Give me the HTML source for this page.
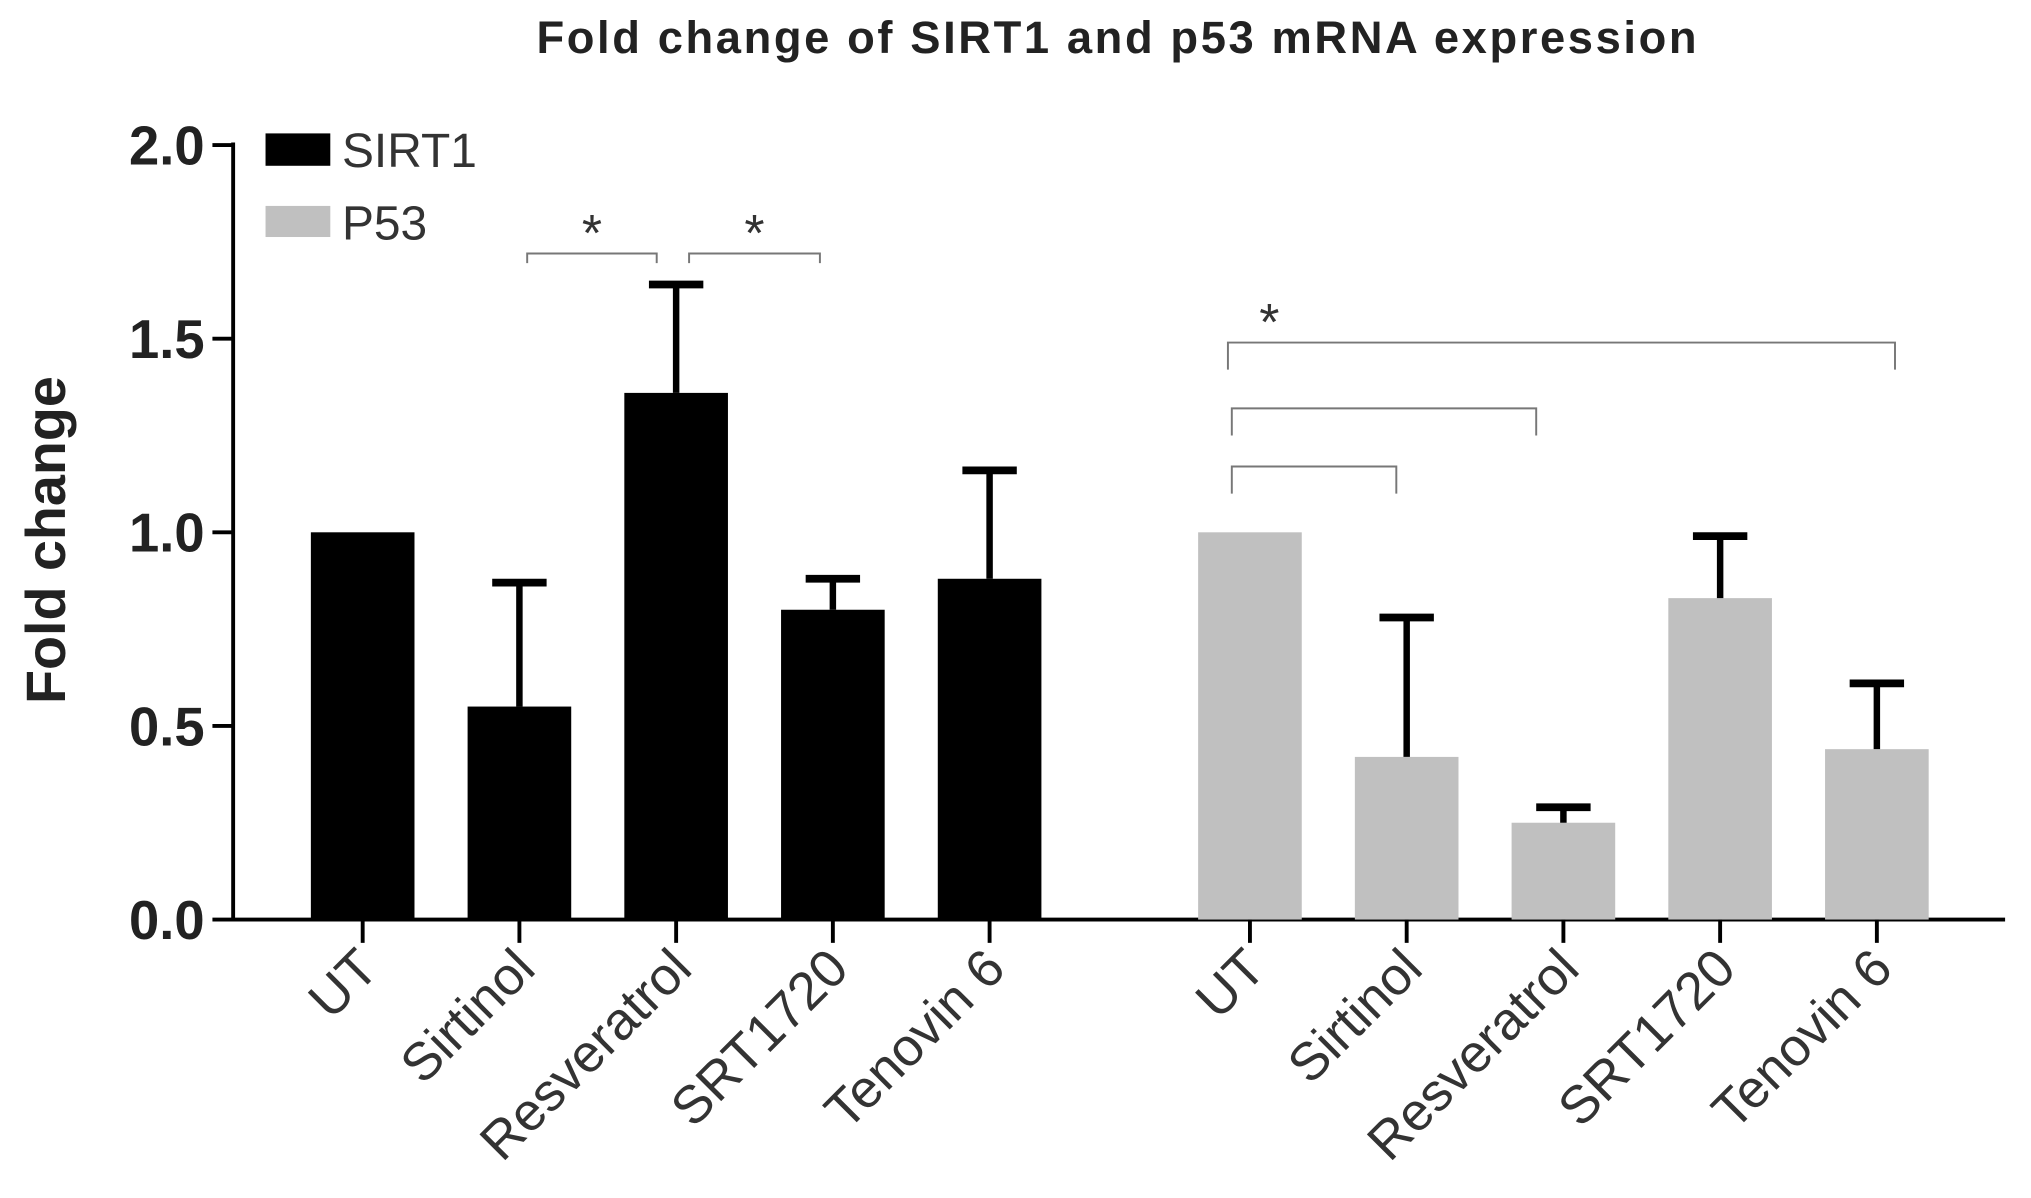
<!DOCTYPE html>
<html><head><meta charset="utf-8"><style>html,body{margin:0;padding:0;background:#fff}svg{display:block}</style></head>
<body>
<svg id="chart" width="2031" height="1198" viewBox="0 0 1568 925" preserveAspectRatio="none" xmlns="http://www.w3.org/2000/svg" font-family="Liberation Sans, Arial, sans-serif">
<text x="863" y="41" text-anchor="middle" font-size="35" font-weight="bold" letter-spacing="2" fill="#222">Fold change of SIRT1 and p53 mRNA  expression</text>
<text transform="translate(50,417) rotate(-90)" text-anchor="middle" font-size="43" font-weight="bold" fill="#222">Fold change</text>
<g id="legend">
<rect x="205" y="103" width="50" height="25" fill="#000"/>
<text x="264" y="129" font-size="37" fill="#333">SIRT1</text>
<rect x="205" y="159" width="50" height="24" fill="#c0c0c0"/>
<text x="264" y="185" font-size="37" fill="#333">P53</text>
</g>
<g id="marks"></g>
</svg>
<script>
const categories = ["UT","Sirtinol","Resveratrol","SRT1720","Tenovin 6","UT","Sirtinol","Resveratrol","SRT1720","Tenovin 6"];
const series = ["SIRT1","SIRT1","SIRT1","SIRT1","SIRT1","P53","P53","P53","P53","P53"];
const values = [1.0,0.55,1.36,0.80,0.88,1.0,0.42,0.25,0.83,0.44];
const errTops = [null,0.87,1.64,0.88,1.16,null,0.78,0.29,0.99,0.61];
const yTicks = [0,0.5,1.0,1.5,2.0];
const yTickLabels = ["0.0","0.5","1.0","1.5","2.0"];
const bracketFrom = [1,2,5,5,5];
const bracketTo = [2,3,9,7,6];
const bracketLevel = [1.72,1.72,1.49,1.32,1.17];
const bracketDrop = [0.025,0.025,0.07,0.07,0.07];
const bracketLabel = ["*","*","*","",""];
// pixel insets for bracket ends (style, not data)
const insetL = [6,10,-17,-14,-14];
const insetR = [-15,-10,14,-21,-8];

const NS="http://www.w3.org/2000/svg";
const g=document.getElementById('marks');
const y0=710, pxPerUnit=299;
const yScale=v=>y0-v*pxPerUnit;
const xScale=i=>280+i*121+(i>=5?80:0);
function mk(t,a){const e=document.createElementNS(NS,t);for(const k in a)e.setAttribute(k,a[k]);g.appendChild(e);return e;}
let e=mk('line',{x1:180,y1:yScale(2)-2,x2:180,y2:y0+1.5,stroke:'#000','stroke-width':3});


e=mk('line',{x1:178.5,y1:y0,x2:1548,y2:y0,stroke:'#000','stroke-width':3});


yTicks.forEach((t,i)=>{
  let l=mk('line',{x1:164,y1:yScale(t),x2:180,y2:yScale(t),stroke:'#000','stroke-width':3});
  
  
  let tx=mk('text',{x:158,y:yScale(t)+15,'text-anchor':'end','font-size':42,'font-weight':'bold',fill:'#222'});
  tx.textContent=yTickLabels[i];
  
  
});
categories.forEach((c,i)=>{
  const x=xScale(i);
  const col=series[i]==='SIRT1'?'#000':'#c0c0c0';
  let b=mk('rect',{x:x-40,y:yScale(values[i]),width:80,height:y0-yScale(values[i]),fill:col});
  
  
  if(errTops[i]!==null){
    let el=mk('line',{x1:x,y1:yScale(values[i]),x2:x,y2:yScale(errTops[i]),stroke:'#000','stroke-width':5});
    
    
    let cp=mk('line',{x1:x-21,y1:yScale(errTops[i]),x2:x+21,y2:yScale(errTops[i]),stroke:'#000','stroke-width':6});
    
    
  }
  let tk=mk('line',{x1:x,y1:y0,x2:x,y2:y0+18,stroke:'#000','stroke-width':3});
  
  
  let lb=mk('text',{transform:`translate(${x+14},${y0+40}) rotate(-45)`,'text-anchor':'end','font-size':41,fill:'#333'});
  lb.textContent=c;
  
  
});
bracketFrom.forEach((f,k)=>{
  const xa=xScale(f)+insetL[k], xb=xScale(bracketTo[k])+insetR[k];
  const yy=yScale(bracketLevel[k]), dd=bracketDrop[k]*pxPerUnit;
  let p=mk('path',{d:`M${xa},${yy+dd} V${yy} H${xb} V${yy+dd}`,fill:'none',stroke:'#777','stroke-width':1.5});
  
  
  if(bracketLabel[k]){
    let st=mk('text',{x:f===5?xa+32:(xa+xb)/2,y:yy-2,'text-anchor':'middle','font-size':40,fill:'#333'});
    st.textContent=bracketLabel[k];
    
    
  }
});
</script>
</body></html>
